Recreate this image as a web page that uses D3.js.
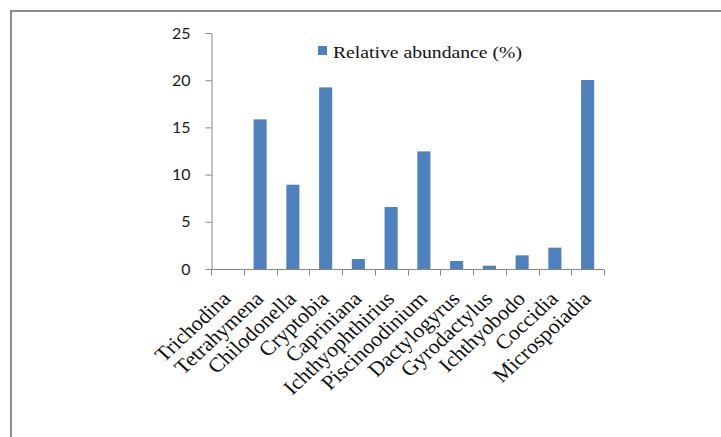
<!DOCTYPE html>
<html>
<head>
<meta charset="utf-8">
<script src="https://cdn.jsdelivr.net/npm/d3@7/dist/d3.min.js"></script>
<style>
  html, body { margin: 0; padding: 0; background: #fff; }
  svg { display: block; }
</style>
</head>
<body>
<svg id="chart" width="721" height="437"></svg>
<script>
// Parasite taxa and their relative abundance (%)
const categories = [
  "Trichodina", "Tetrahymena", "Chilodonella", "Cryptobia", "Capriniana",
  "Ichthyophthirius", "Piscinoodinium", "Dactylogyrus", "Gyrodactylus",
  "Ichthyobodo", "Coccidia", "Microspoiadia"
];
const abundance = [0, 15.85, 8.93, 19.24, 1.06, 6.57, 12.46, 0.85, 0.35, 1.45, 2.26, 20.02];
const yTicks = [0, 5, 10, 15, 20, 25];
const seriesName = "Relative abundance (%)";

const svg = d3.select("#chart");
const barColor = "#4f81bd";
const axisColor = "#868686";

// Outer frame (open to the right and bottom edges)
svg.append("rect")
  .attr("x", 11).attr("y", 11)
  .attr("width", 760).attr("height", 460)
  .attr("fill", "none")
  .attr("stroke", "#8c8c8c")
  .attr("stroke-width", 2);

const plot = { left: 211, right: 604, top: 33, bottom: 269 };

const x = d3.scaleBand()
  .domain(categories)
  .range([plot.left, plot.right])
  .padding(0);

const y = d3.scaleLinear()
  .domain([0, 25])
  .range([plot.bottom, plot.top]);

const barW = x.bandwidth() * 0.4;

// Bars
svg.append("g")
  .selectAll("rect")
  .data(categories.map((c, i) => ({ c, v: abundance[i] })))
  .join("rect")
  .attr("x", d => x(d.c) + (x.bandwidth() - barW) / 2)
  .attr("y", d => y(d.v))
  .attr("width", barW)
  .attr("height", d => y(0) - y(d.v))
  .attr("fill", barColor);

// Y axis
const yAxis = svg.append("g")
  .attr("transform", `translate(${plot.left + 0.5},0)`)
  .call(d3.axisLeft(y).tickValues(yTicks).tickSize(6).tickPadding(15).tickSizeOuter(0));
yAxis.select(".domain").attr("stroke", axisColor);
yAxis.selectAll(".tick line").attr("stroke", axisColor);
yAxis.selectAll(".tick text")
  .attr("fill", "#1a1a1a")
  .style("font-family", "Lato, 'Open Sans', sans-serif")
  .style("font-size", "16px");

// X axis: ticks on category boundaries
const xAxisG = svg.append("g")
  .attr("transform", `translate(0,${plot.bottom + 0.5})`);
xAxisG.append("line")
  .attr("x1", plot.left).attr("x2", plot.right)
  .attr("stroke", axisColor);
const boundaries = categories.map(c => x(c)).concat([plot.right]);
xAxisG.selectAll("line.tick")
  .data(boundaries)
  .join("line")
  .attr("class", "tick")
  .attr("x1", d => Math.round(d) + 0.5).attr("x2", d => Math.round(d) + 0.5)
  .attr("y1", 0).attr("y2", 6)
  .attr("stroke", axisColor);

// Rotated category labels
svg.append("g")
  .selectAll("text")
  .data(categories)
  .join("text")
  .attr("transform", c => `translate(${x(c) + x.bandwidth() / 2 + 4.5},300) scale(1.08,1) rotate(-45)`)
  .attr("text-anchor", "end")
  .style("font-family", "'Liberation Serif', 'Times New Roman', serif")
  .style("font-size", "20.5px")
  .attr("fill", "#111")
  .text(c => c);

// Legend
const legend = svg.append("g");
legend.append("rect")
  .attr("x", 318).attr("y", 46)
  .attr("width", 9).attr("height", 9)
  .attr("fill", barColor);
legend.append("text")
  .attr("x", 333).attr("y", 58)
  .attr("textLength", 189)
  .attr("lengthAdjust", "spacingAndGlyphs")
  .style("font-family", "'Liberation Serif', 'Times New Roman', serif")
  .style("font-size", "17.5px")
  .attr("fill", "#111")
  .text(seriesName);
</script>
</body>
</html>
